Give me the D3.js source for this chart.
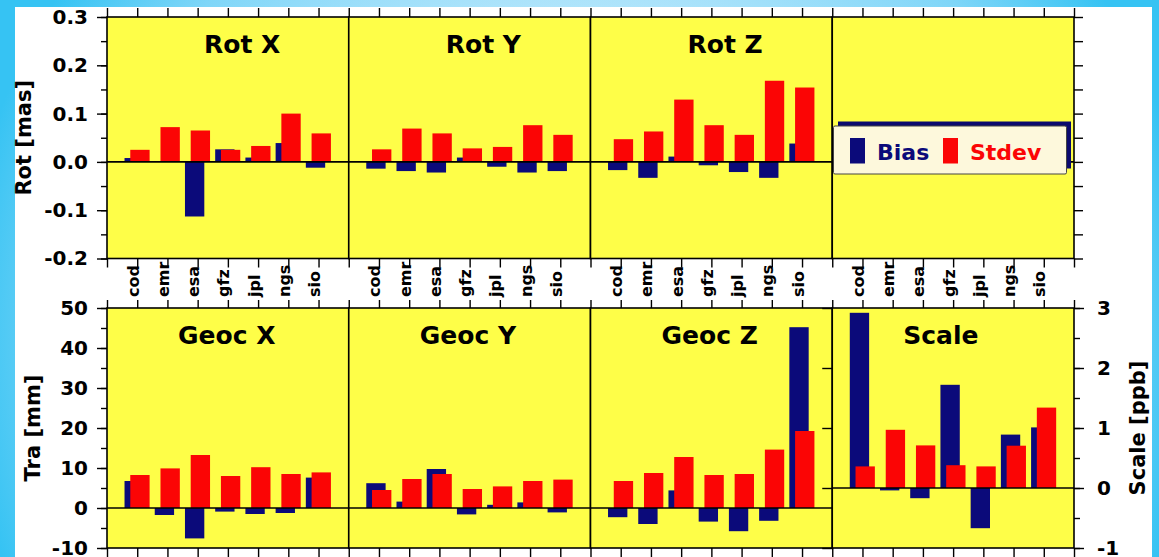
<!DOCTYPE html>
<html>
<head>
<meta charset="utf-8">
<script src="https://cdn.jsdelivr.net/npm/d3@7"></script>
<style>
  html, body { margin: 0; padding: 0; background: #fff; }
  svg { display: block; }
  text { font-family: "DejaVu Sans", sans-serif; font-weight: bold; }
</style>
</head>
<body>
<svg id="chart" width="1159" height="557"></svg>
<script>
// Analysis centres
const categories = ["cod", "emr", "esa", "gfz", "jpl", "ngs", "sio"];

// Rotations [mas]
const rotXBias  = [0.008, 0.000, -0.113, 0.026, 0.009, 0.039, -0.012];
const rotXStdev = [0.025, 0.072, 0.065, 0.025, 0.033, 0.100, 0.059];
const rotYBias  = [-0.014, -0.019, -0.022, 0.009, -0.010, -0.022, -0.019];
const rotYStdev = [0.026, 0.069, 0.059, 0.028, 0.031, 0.076, 0.056];
const rotZBias  = [-0.017, -0.033, 0.011, -0.007, -0.021, -0.033, 0.038];
const rotZStdev = [0.047, 0.063, 0.129, 0.076, 0.056, 0.168, 0.154];

// Geocentre translations [mm]
const geocXBias  = [6.75, -1.75, -7.6, -0.9, -1.5, -1.25, 7.6];
const geocXStdev = [8.25, 9.9, 13.25, 8.0, 10.2, 8.5, 8.9];
const geocYBias  = [6.2, 1.6, 9.75, -1.6, 0.8, 1.4, -1.1];
const geocYStdev = [4.5, 7.25, 8.5, 4.75, 5.4, 6.75, 7.1];
const geocZBias  = [-2.3, -4.0, 4.4, -3.4, -5.8, -3.2, 45.2];
const geocZStdev = [6.75, 8.75, 12.75, 8.25, 8.5, 14.6, 19.25];

// Scale [ppb]
const scaleBias  = [2.92, -0.04, -0.17, 1.72, -0.67, 0.89, 1.01];
const scaleStdev = [0.36, 0.97, 0.71, 0.38, 0.36, 0.705, 1.34];

// Axis ticks
const rotTicks   = [-0.2, -0.1, 0.0, 0.1, 0.2, 0.3];
const traTicks   = [-10, 0, 10, 20, 30, 40, 50];
const scaleTicks = [-1, 0, 1, 2, 3];

const seriesNames = ["Bias", "Stdev"];
const titlesTop = ["Rot X", "Rot Y", "Rot Z", null];
const titlesBottom = ["Geoc X", "Geoc Y", "Geoc Z", "Scale"];

const colors = { Bias: "#0b0a7a", Stdev: "#fb0505" };
const yellow = "#fefe48";

const svg = d3.select("#chart");

// ---- background ----
const defs = svg.append("defs");
const grad = defs.append("radialGradient")
  .attr("id", "bg").attr("gradientUnits", "userSpaceOnUse")
  .attr("cx", 580).attr("cy", 330).attr("r", 620);
grad.append("stop").attr("offset", 0).attr("stop-color", "#dff5fe");
grad.append("stop").attr("offset", 0.5).attr("stop-color", "#b2e5fb");
grad.append("stop").attr("offset", 0.8).attr("stop-color", "#7fd6f8");
grad.append("stop").attr("offset", 1).attr("stop-color", "#36c3f3");
svg.append("rect").attr("width", 1159).attr("height", 557).attr("fill", "url(#bg)");
svg.append("rect").attr("x", 15).attr("y", 7).attr("width", 1137).attr("height", 560).attr("fill", "#ffffff");

// ---- layout ----
const left = 107, right = 1074;
const panelW = (right - left) / 4;
const topRow = { y0: 17, y1: 258.5 };
const botRow = { y0: 308, y1: 548 };

const yRot = d3.scaleLinear().domain([-0.2, 0.3]).range([topRow.y1, topRow.y0]);
const yTra = d3.scaleLinear().domain([-10, 50]).range([botRow.y1, botRow.y0]);
const yScale = d3.scaleLinear().domain([-1, 3]).range([botRow.y1, botRow.y0]);

const panels = [
  { row: topRow, col: 0, y: yRot, title: titlesTop[0], bias: rotXBias, stdev: rotXStdev },
  { row: topRow, col: 1, y: yRot, title: titlesTop[1], bias: rotYBias, stdev: rotYStdev },
  { row: topRow, col: 2, y: yRot, title: titlesTop[2], bias: rotZBias, stdev: rotZStdev },
  { row: topRow, col: 3, y: yRot, title: titlesTop[3], bias: null, stdev: null },
  { row: botRow, col: 0, y: yTra, title: titlesBottom[0], bias: geocXBias, stdev: geocXStdev },
  { row: botRow, col: 1, y: yTra, title: titlesBottom[1], bias: geocYBias, stdev: geocYStdev },
  { row: botRow, col: 2, y: yTra, title: titlesBottom[2], bias: geocZBias, stdev: geocZStdev },
  { row: botRow, col: 3, y: yScale, title: titlesBottom[3], bias: scaleBias, stdev: scaleStdev }
];

panels.forEach(p => {
  const x0 = left + p.col * panelW, x1 = x0 + panelW;
  const x = d3.scaleBand().domain(categories).range([x0, x1]).paddingInner(0).paddingOuter(0.5);
  const step = x.step();
  const bw = step * 0.64;
  const g = svg.append("g");

  g.append("rect").attr("x", x0).attr("y", p.row.y0)
    .attr("width", panelW).attr("height", p.row.y1 - p.row.y0).attr("fill", yellow);

  if (p.bias) {
    const rows = categories.map((c, i) => ({ c, bias: p.bias[i], stdev: p.stdev[i] }));
    const offs = { Bias: -0.1 * step, Stdev: 0.09 * step };
    seriesNames.forEach(s => {
      const key = s === "Bias" ? "bias" : "stdev";
      g.selectAll("rect." + key).data(rows).join("rect")
        .attr("class", key)
        .attr("x", d => x(d.c) + x.bandwidth() / 2 + offs[s] - bw / 2)
        .attr("width", bw)
        .attr("y", d => Math.min(p.y(d[key]), p.y(0)))
        .attr("height", d => Math.abs(p.y(d[key]) - p.y(0)))
        .attr("fill", colors[s]);
    });
  }

  // zero line
  g.append("line").attr("x1", x0).attr("x2", x1)
    .attr("y1", p.y(0)).attr("y2", p.y(0))
    .attr("stroke", "#000").attr("stroke-width", 1.6);

  // frame
  g.append("rect").attr("x", x0).attr("y", p.row.y0)
    .attr("width", panelW).attr("height", p.row.y1 - p.row.y0)
    .attr("fill", "none").attr("stroke", "#000").attr("stroke-width", 1.6);

  if (p.title) {
    g.append("text")
      .attr("x", x0 + (p.row === topRow ? 97 : 71))
      .attr("y", p.row.y0 + 36)
      .attr("font-size", 25).attr("fill", "#000")
      .text(p.title);
  }

  // category labels between the two rows
  if (p.row === topRow) {
    categories.forEach(c => {
      const cx = x(c) + x.bandwidth() / 2;
      svg.append("text")
        .attr("transform", `translate(${cx + 1.5},297) rotate(-90)`)
        .attr("font-size", 16).attr("fill", "#000")
        .text(c);
    });
  }
});

// ---- axes ----
function styleAxis(sel) {
  sel.select(".domain").remove();
  sel.selectAll(".tick line").attr("stroke", "#000").attr("stroke-width", 1.4);
  sel.selectAll(".tick text").attr("fill", "#000").attr("font-size", 20)
    .attr("font-family", "DejaVu Sans, sans-serif").attr("font-weight", "bold");
}

// horizontal tick axes: 8 ticks per panel (7 centres + panel edges)
const xTicks = d3.scaleLinear().domain([0, 32]).range([left, right]);
const xTickVals = d3.range(0, 33);
[[d3.axisTop, topRow.y0], [d3.axisBottom, topRow.y1], [d3.axisTop, botRow.y0], [d3.axisBottom, botRow.y1]]
  .forEach(([ax, y]) => {
    svg.append("g").attr("transform", `translate(0,${y})`)
      .call(ax(xTicks).tickValues(xTickVals).tickSize(y === botRow.y0 ? 8 : 9).tickFormat(""))
      .call(styleAxis);
  });

function minorVals(domain, stepv) {
  const out = [];
  for (let v = domain[0]; v <= domain[1] + 1e-9; v += stepv) out.push(+v.toFixed(6));
  return out;
}

// Rot axis (left) and its mirror on the right
svg.append("g").attr("transform", `translate(${left},0)`)
  .call(d3.axisLeft(yRot).tickValues(minorVals([-0.2, 0.3], 0.05)).tickSize(6).tickFormat(""))
  .call(styleAxis);
svg.append("g").attr("transform", `translate(${left},0)`)
  .call(d3.axisLeft(yRot).tickValues(rotTicks).tickSize(10).tickPadding(9).tickFormat(d => d.toFixed(1)))
  .call(styleAxis);
svg.append("g").attr("transform", `translate(${right},0)`)
  .call(d3.axisRight(yRot).tickValues(minorVals([-0.2, 0.3], 0.05)).tickSize(9).tickFormat(""))
  .call(styleAxis);

// Translation axis (left)
svg.append("g").attr("transform", `translate(${left},0)`)
  .call(d3.axisLeft(yTra).tickValues(minorVals([-10, 50], 5)).tickSize(6).tickFormat(""))
  .call(styleAxis);
svg.append("g").attr("transform", `translate(${left},0)`)
  .call(d3.axisLeft(yTra).tickValues(traTicks).tickSize(10).tickPadding(9).tickFormat(d => String(d)))
  .call(styleAxis);

// Scale axis (right) plus inner ticks on the Scale panel's left edge
svg.append("g").attr("transform", `translate(${right},0)`)
  .call(d3.axisRight(yScale).tickValues(minorVals([-1, 3], 0.5)).tickSize(6).tickFormat(""))
  .call(styleAxis);
svg.append("g").attr("transform", `translate(${right},0)`)
  .call(d3.axisRight(yScale).tickValues(scaleTicks).tickSize(10).tickPadding(13).tickFormat(d => String(d)))
  .call(styleAxis);
svg.append("g").attr("transform", `translate(${left + 3 * panelW},0)`)
  .call(d3.axisLeft(yScale).tickValues(scaleTicks).tickSize(10).tickFormat(""))
  .call(styleAxis);

// axis titles
svg.append("text")
  .attr("transform", `translate(31,${(topRow.y0 + topRow.y1) / 2}) rotate(-90)`)
  .attr("text-anchor", "middle").attr("font-size", 21).attr("fill", "#000")
  .text("Rot [mas]");
svg.append("text")
  .attr("transform", `translate(40,${(botRow.y0 + botRow.y1) / 2}) rotate(-90)`)
  .attr("text-anchor", "middle").attr("font-size", 21).attr("fill", "#000")
  .text("Tra [mm]");
svg.append("text")
  .attr("transform", `translate(1145,${(botRow.y0 + botRow.y1) / 2}) rotate(-90)`)
  .attr("text-anchor", "middle").attr("font-size", 21).attr("fill", "#000")
  .text("Scale [ppb]");

// ---- legend ----
const lg = svg.append("g");
lg.append("rect").attr("x", 838).attr("y", 121.5).attr("width", 233).attr("height", 47)
  .attr("fill", "#0b0a6e");
lg.append("rect").attr("x", 833.5).attr("y", 126).attr("width", 233).attr("height", 48)
  .attr("fill", "#fdf8dc").attr("stroke", "#444").attr("stroke-width", 1).attr("rx", 1.5);
const legendItems = [
  { name: seriesNames[0], sx: 850, tx: 877 },
  { name: seriesNames[1], sx: 943, tx: 970 }
];
legendItems.forEach(it => {
  lg.append("rect").attr("x", it.sx).attr("y", 138).attr("width", 15).attr("height", 25.5)
    .attr("fill", colors[it.name]);
  lg.append("text").attr("x", it.tx).attr("y", 159.5)
    .attr("font-size", 22).attr("fill", colors[it.name]).text(it.name);
});
</script>
</body>
</html>
